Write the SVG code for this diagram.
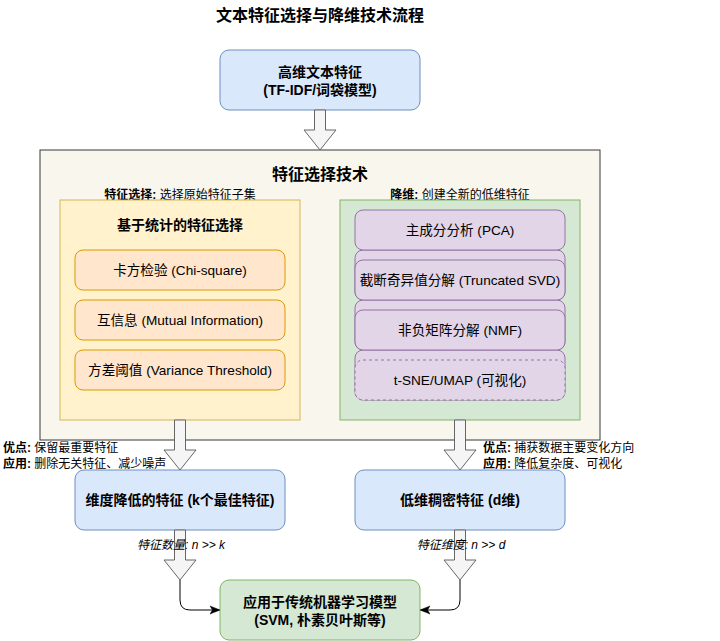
<svg xmlns="http://www.w3.org/2000/svg" width="720" height="641" viewBox="0 0 720 641">
<defs>
<style>
text{font-family:"Liberation Sans","Noto Sans CJK SC",sans-serif;fill:#000;dominant-baseline:central}
.t{font-size:16px;font-weight:bold;text-anchor:middle}
.nb{font-size:14px;font-weight:bold;text-anchor:middle}
.bx{font-size:13.6px;text-anchor:middle}
.lb{font-size:12px}
.it{font-size:12px;font-style:italic;text-anchor:middle}
.blue{fill:#dae8fc;stroke:#6c8ebf;stroke-width:1}
.green{fill:#d5e8d4;stroke:#82b366;stroke-width:1}
.orange{fill:#ffe6cc;stroke:#d79b00;stroke-width:1}
.purple{fill:#e1d5e7;stroke:#9673a6;stroke-width:1}
.yellow{fill:#fff2cc;stroke:#d6b656;stroke-width:1}
.barrow{fill:#f5f5f5;stroke:#666666;stroke-width:1}
.conn{fill:none;stroke:#000;stroke-width:1}
</style>
<marker id="arr" viewBox="0 0 10 10" refX="9" refY="5" markerWidth="10" markerHeight="10" markerUnits="userSpaceOnUse" orient="auto">
<path d="M0,1 L10,5 L0,9 L2.5,5 Z" fill="#000" stroke="#000" stroke-width="0.5"/>
</marker>
</defs>
<rect width="720" height="641" fill="#fff"/>
<text class="t" x="320" y="15">文本特征选择与降维技术流程</text>

<g id="container">
<rect x="40" y="150" width="560" height="290" fill="#f9f7ed" stroke="#36393d"/>
<text class="t" x="320" y="174">特征选择技术</text>
<text class="lb" x="180" y="195" text-anchor="middle"><tspan font-weight="bold">特征选择:</tspan> 选择原始特征子集</text>
<text class="lb" x="460" y="195" text-anchor="middle"><tspan font-weight="bold">降维:</tspan> 创建全新的低维特征</text>
</g>

<g id="node-input">
<rect class="blue" x="220" y="50" width="200" height="60" rx="9"/>
<text class="nb" x="320" y="72">高维文本特征</text>
<text class="nb" x="320" y="90">(TF-IDF/词袋模型)</text>
</g>

<g id="group-stat">
<rect class="yellow" x="60" y="200" width="240" height="220"/>
<text class="nb" x="180" y="225">基于统计的特征选择</text>
</g>
<g id="node-chi">
<rect class="orange" x="75" y="250" width="210" height="40" rx="8"/>
<text class="bx" x="180" y="270">卡方检验 (Chi-square)</text>
</g>
<g id="node-mi">
<rect class="orange" x="75" y="300" width="210" height="40" rx="8"/>
<text class="bx" x="180" y="320">互信息 (Mutual Information)</text>
</g>
<g id="node-var">
<rect class="orange" x="75" y="350" width="210" height="40" rx="8"/>
<text class="bx" x="180" y="370">方差阈值 (Variance Threshold)</text>
</g>

<g id="group-dr">
<rect class="green" x="340" y="200" width="240" height="220"/>
<rect class="purple" x="355" y="250" width="210" height="50" rx="8"/>
<rect class="purple" x="355" y="300" width="210" height="50" rx="8"/>
<rect class="purple" x="355" y="350" width="210" height="50" rx="8"/>
</g>
<g id="node-pca">
<rect class="purple" x="355" y="210" width="210" height="40" rx="8"/>
<text class="bx" x="460" y="230">主成分分析 (PCA)</text>
</g>
<g id="node-svd">
<rect class="purple" x="355" y="260" width="210" height="40" rx="8"/>
<text class="bx" x="460" y="280">截断奇异值分解 (Truncated SVD)</text>
</g>
<g id="node-nmf">
<rect class="purple" x="355" y="310" width="210" height="40" rx="8"/>
<text class="bx" x="460" y="330">非负矩阵分解 (NMF)</text>
</g>
<g id="node-tsne">
<rect class="purple" x="355" y="360" width="210" height="40" rx="8" stroke-dasharray="3,3"/>
<text class="bx" x="460" y="380">t-SNE/UMAP (可视化)</text>
</g>

<g id="node-k">
<rect class="blue" x="75" y="470" width="210" height="60" rx="9"/>
<text class="nb" x="180" y="500">维度降低的特征 (k个最佳特征)</text>
</g>
<g id="node-d">
<rect class="blue" x="355" y="470" width="210" height="60" rx="9"/>
<text class="nb" x="460" y="500">低维稠密特征 (d维)</text>
</g>
<g id="node-ml">
<rect class="green" x="220" y="580" width="200" height="60" rx="9"/>
<text class="nb" x="320" y="602">应用于传统机器学习模型</text>
<text class="nb" x="320" y="620">(SVM, 朴素贝叶斯等)</text>
</g>

<g id="connectors">
<path class="barrow" d="M314.5,110 L325.5,110 L325.5,130 L336,130 L320,150 L304,130 L314.5,130 Z"/>
<path class="barrow" d="M174.5,420 L185.5,420 L185.5,450 L196,450 L180,470 L164,450 L174.5,450 Z"/>
<path class="barrow" d="M454.5,420 L465.5,420 L465.5,450 L476,450 L460,470 L444,450 L454.5,450 Z"/>
<path class="barrow" d="M174.5,530 L185.5,530 L185.5,560 L196,560 L180,580 L164,560 L174.5,560 Z"/>
<path class="barrow" d="M454.5,530 L465.5,530 L465.5,560 L476,560 L460,580 L444,560 L454.5,560 Z"/>
<path class="conn" d="M180,580 L180,600 Q180,610 190,610 L219,610" marker-end="url(#arr)"/>
<path class="conn" d="M460,580 L460,600 Q460,610 450,610 L421,610" marker-end="url(#arr)"/>
<text class="lb" x="3" y="447.5"><tspan font-weight="bold">优点:</tspan> 保留最重要特征</text>
<text class="lb" x="3" y="463.5"><tspan font-weight="bold">应用:</tspan> 删除无关特征、减少噪声</text>
<text class="lb" x="483" y="447.5"><tspan font-weight="bold">优点:</tspan> 捕获数据主要变化方向</text>
<text class="lb" x="483" y="463.5"><tspan font-weight="bold">应用:</tspan> 降低复杂度、可视化</text>
<text class="it" x="181" y="545">特征数量: n &gt;&gt; k</text>
<text class="it" x="461" y="545">特征维度: n &gt;&gt; d</text>
</g>
</svg>
